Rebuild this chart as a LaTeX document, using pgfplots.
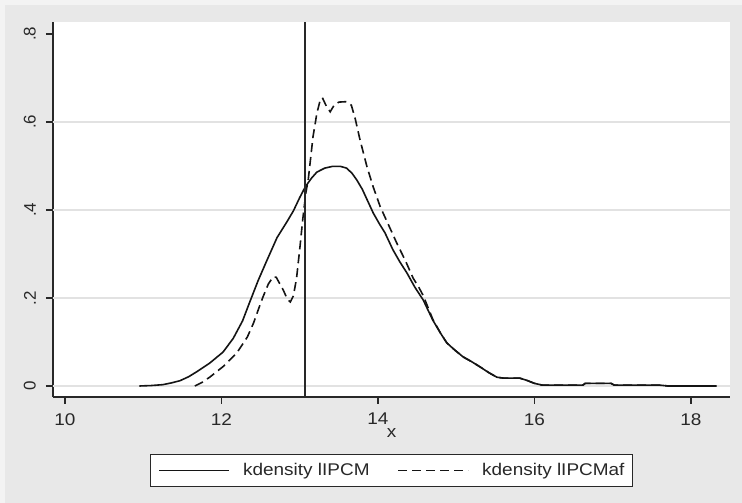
\documentclass[border=0pt]{standalone}
\usepackage{fontspec}
\setmainfont{Liberation Sans}[FakeStretch=1.12]
\newfontfamily\plainsans{Liberation Sans}
\usepackage{pgfplots}
\pgfplotsset{compat=1.18}
\definecolor{outerbg}{RGB}{243,243,243}
\definecolor{panelbg}{RGB}{232,232,232}
\definecolor{gridc}{RGB}{226,226,226}
\definecolor{axc}{RGB}{40,40,40}
\definecolor{curvec}{RGB}{20,20,20}
\begin{document}
\begin{tikzpicture}[x=1bp,y=1bp]
\fill[outerbg] (-53,-106) rectangle (689,397);
\fill[panelbg] (-48,-106) rectangle (689,392);
\begin{axis}[
  at={(0,0)}, anchor=south west,
  scale only axis, width=677bp, height=375bp,
  xmin=9.847, xmax=18.5, ymin=-0.025, ymax=0.827,
  axis background/.style={fill=white},
  axis x line*=bottom, axis y line*=left,
  axis line style={axc, line width=1.5bp, -},
  tick align=outside, major tick length=7bp,
  tick style={axc, line width=1.4bp},
  xtick={10,12,14,16,18}, xticklabels={10,12,14,16,18},
  ytick={0,0.2,0.4,0.6,0.8}, yticklabels={0,.2,.4,.6,.8},
  minor tick num=0,
  /pgf/number format/assume math mode=true,
  xticklabel style={font=\fontsize{17}{20}\selectfont, text=axc, inner sep=0pt, anchor=north},
  xticklabel shift=9bp,
  yticklabel style={font=\plainsans\fontsize{17}{20}\selectfont, text=axc, inner sep=0pt, rotate=90, anchor=south},
  yticklabel shift=10bp,
  extra y ticks={0,0.2,0.4,0.6}, extra y tick labels={},
  extra y tick style={ymajorgrids=true, major tick length=0pt, grid style={gridc, line width=1.3bp}},
  xlabel={x},
  xlabel style={at={(axis description cs:0.5,0)}, anchor=north, inner sep=0pt, yshift=-31bp, font=\fontsize{17}{20}\selectfont, text=axc},
  legend columns=2,
  legend image code/.code={\draw[#1] (0bp,0bp) -- (70bp,0bp);},
  legend style={at={(axis description cs:0.5,-0.196)}, anchor=center,
    draw=axc, line width=1.4bp, fill=white,
    inner xsep=8bp, inner ysep=9bp,
    font=\fontsize{17}{20}\selectfont,
    nodes={inner sep=0pt, text=axc},
    /tikz/every odd column/.append style={column sep=13bp},
    /tikz/every even column/.append style={column sep=28bp}},
]
\addplot[curvec, line width=1.6bp] coordinates {
(10.95,0) (11.1,0.001) (11.25,0.003) (11.36,0.007) (11.47,0.012) (11.58,0.021) (11.69,0.033) (11.85,0.052) (12.02,0.077) (12.15,0.108) (12.27,0.148) (12.36,0.19) (12.47,0.24) (12.58,0.285) (12.71,0.337) (12.84,0.374) (12.92,0.398) (13.0,0.428) (13.07,0.452) (13.15,0.472) (13.22,0.486) (13.32,0.495) (13.42,0.499) (13.52,0.499) (13.6,0.495) (13.67,0.483) (13.73,0.468) (13.8,0.447) (13.87,0.42) (13.94,0.393) (14.02,0.368) (14.09,0.348) (14.19,0.31) (14.28,0.282) (14.37,0.257) (14.47,0.225) (14.58,0.195) (14.7,0.15) (14.8,0.12) (14.88,0.098) (14.98,0.082) (15.09,0.066) (15.2,0.055) (15.3,0.044) (15.42,0.03) (15.52,0.02) (15.6,0.018) (15.81,0.018) (15.9,0.013) (16.0,0.006) (16.1,0.002) (16.62,0.002) (16.65,0.006) (16.98,0.006) (17.02,0.002) (17.6,0.002) (17.71,0.0) (18.33,0)
};
\addlegendentry{kdensity lIPCM}
\addplot[curvec, line width=1.6bp, dash pattern=on 9bp off 5bp] coordinates {
(11.66,0) (11.75,0.008) (11.85,0.02) (12.02,0.044) (12.2,0.076) (12.33,0.111) (12.41,0.143) (12.47,0.173) (12.53,0.202) (12.6,0.232) (12.66,0.248) (12.7,0.247) (12.79,0.218) (12.84,0.198) (12.88,0.191) (12.92,0.205) (12.96,0.245) (13.0,0.31) (13.04,0.38) (13.08,0.44) (13.11,0.47) (13.17,0.566) (13.22,0.62) (13.26,0.648) (13.29,0.655) (13.34,0.636) (13.39,0.623) (13.44,0.638) (13.5,0.645) (13.6,0.646) (13.66,0.638) (13.71,0.607) (13.77,0.56) (13.86,0.498) (13.94,0.452) (14.03,0.407) (14.12,0.372) (14.24,0.325) (14.35,0.285) (14.45,0.245) (14.52,0.225) (14.58,0.205) (14.7,0.152) (14.8,0.12) (14.88,0.098) (14.98,0.082) (15.09,0.066) (15.2,0.055) (15.3,0.044) (15.42,0.03) (15.52,0.02) (15.6,0.018) (15.81,0.018) (15.9,0.013) (16.0,0.006) (16.1,0.002) (16.62,0.002) (16.65,0.006) (16.98,0.006) (17.02,0.002) (17.6,0.002) (17.71,0.0) (18.33,0)
};
\addlegendentry{kdensity lIPCMaf}
\addplot[axc, line width=1.5bp, forget plot] coordinates {(13.07,-0.025) (13.07,0.827)};
\end{axis}
\end{tikzpicture}
\end{document}
